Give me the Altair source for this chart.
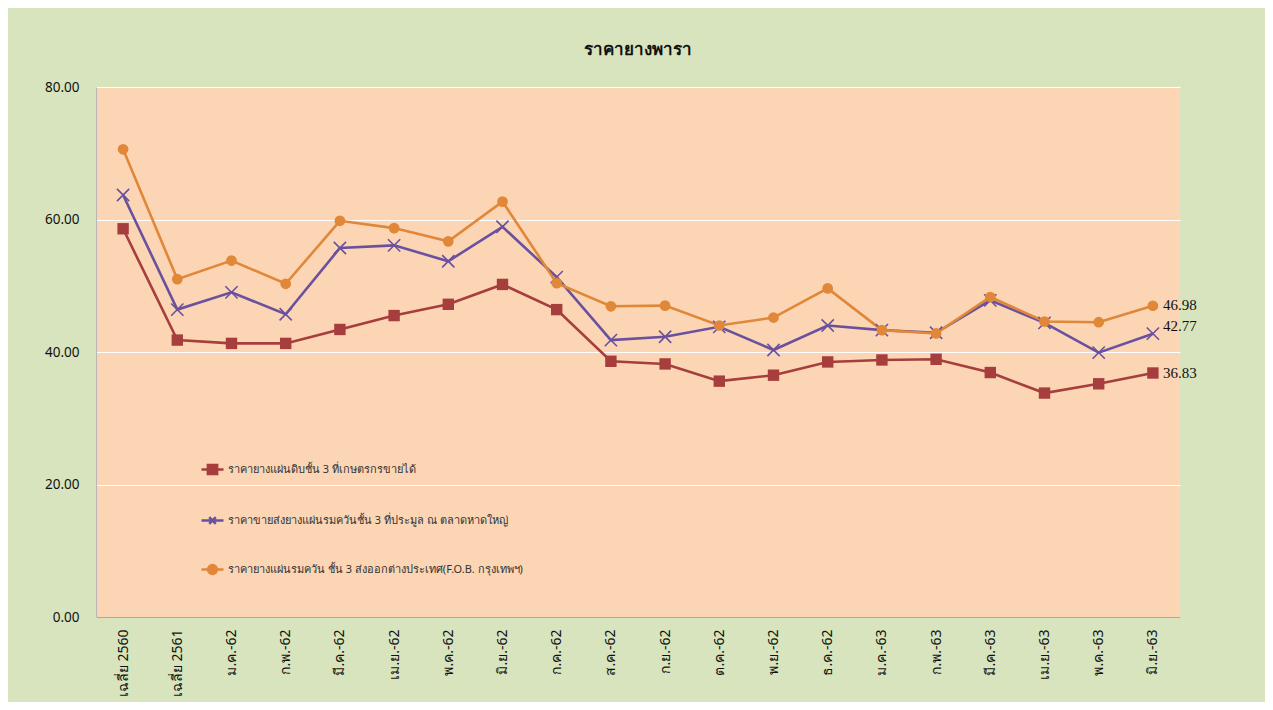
import altair as alt
import pandas as pd

categories = ["เฉลี่ย 2560", "เฉลี่ย 2561", "ม.ค.-62", "ก.พ.-62", "มี.ค.-62", "เม.ย.-62",
              "พ.ค.-62", "มิ.ย.-62", "ก.ค.-62", "ส.ค.-62", "ก.ย.-62", "ต.ค.-62",
              "พ.ย.-62", "ธ.ค.-62", "ม.ค.-63", "ก.พ.-63", "มี.ค.-63", "เม.ย.-63",
              "พ.ค.-63", "มิ.ย.-63"]

series_names = ["ราคายางแผ่นดิบชั้น 3 ที่เกษตรกรขายได้",
                "ราคาขายส่งยางแผ่นรมควันชั้น 3 ที่ประมูล ณ ตลาดหาดใหญ่",
                "ราคายางแผ่นรมควัน ชั้น 3 ส่งออกต่างประเทศ(F.O.B. กรุงเทพฯ)"]

raw_sheet = [58.6, 41.8, 41.3, 41.3, 43.4, 45.5, 47.2, 50.2, 46.4, 38.6,
             38.2, 35.6, 36.5, 38.5, 38.8, 38.9, 36.9, 33.8, 35.2, 36.83]
smoked_hatyai = [63.7, 46.4, 49.0, 45.7, 55.7, 56.1, 53.7, 58.9, 51.3, 41.8,
                 42.3, 43.8, 40.3, 44.0, 43.3, 42.9, 47.8, 44.4, 39.9, 42.77]
smoked_fob = [70.6, 51.0, 53.8, 50.3, 59.8, 58.7, 56.7, 62.7, 50.4, 46.9,
              47.0, 44.0, 45.2, 49.6, 43.3, 42.8, 48.3, 44.6, 44.5, 46.98]

colors = ["#A53E3D", "#6A519E", "#E08738"]

rows = []
for name, vals in zip(series_names, [raw_sheet, smoked_hatyai, smoked_fob]):
    for c, v in zip(categories, vals):
        rows.append({"cat": c, "series": name, "value": v})
df = pd.DataFrame(rows)

FONT = "Noto Sans"
x_enc = alt.X("cat:N", sort=categories, scale=alt.Scale(type="point", padding=0.5),
              axis=alt.Axis(title=None, labelAngle=270, labelFontSize=14, labelColor="#111111",
                            labelPadding=12, ticks=False, domainColor="#A8A8A8",
                            labelFont=FONT, grid=False))
y_enc = alt.Y("value:Q", scale=alt.Scale(domain=[0, 80], nice=False),
              axis=alt.Axis(title=None, values=[0, 20, 40, 60, 80], format=".2f",
                            labelFontSize=13.5, labelColor="#111111", labelPadding=17,
                            ticks=False, domainColor="#B8B8B8", gridColor="#FFFFFF",
                            gridWidth=1, labelFont=FONT))

base = alt.Chart(df)

x_path = "M-1,-1L1,1M-1,1L1,-1"
marker_props = [
    dict(shape="square", filled=True, size=130),
    dict(shape=x_path, filled=False, size=150, strokeWidth=1.6),
    dict(shape="circle", filled=True, size=115),
]

layers = []
for name, col in zip(series_names, colors):
    layers.append(base.transform_filter(alt.datum.series == name)
                  .mark_line(strokeWidth=2.6, color=col).encode(x=x_enc, y=y_enc))
for name, col, mp in zip(series_names, colors, marker_props):
    layers.append(base.transform_filter(alt.datum.series == name)
                  .mark_point(opacity=1, color=col, **mp).encode(x=x_enc, y=y_enc))

legend_shapes = [
    "M-1,0H1M-0.42,-0.42H0.42V0.42H-0.42Z",
    "M-1,0H1M-0.3,-0.3L0.3,0.3M-0.3,0.3L0.3,-0.3",
    "M-1,0H1M-0.4,0A0.4,0.4,0,1,0,0.4,0A0.4,0.4,0,1,0,-0.4,0Z",
]
leg = alt.Legend(title=None, orient="none", legendX=104, legendY=370, direction="vertical",
                 rowPadding=28, symbolSize=484, symbolStrokeWidth=2.5, labelFontSize=11,
                 labelColor="#333333", labelFont=FONT, labelOffset=3, padding=0,
                 symbolOpacity=1, labelLimit=600)
# legend-only layer: its points sit outside the plot area and are clipped away
legend_layer = base.mark_point(filled=True, clip=True).encode(
    x=x_enc, y=alt.value(-2000),
    shape=alt.Shape("series:N", scale=alt.Scale(domain=series_names, range=legend_shapes), legend=leg),
    fill=alt.Fill("series:N", scale=alt.Scale(domain=series_names, range=colors), legend=leg),
    stroke=alt.Stroke("series:N", scale=alt.Scale(domain=series_names, range=colors), legend=leg),
)
layers.append(legend_layer)

label_dy = [0, -8, -1]
for name, dy in zip(series_names, label_dy):
    layers.append(
        base.transform_filter((alt.datum.series == name) & (alt.datum.cat == categories[-1]))
        .mark_text(align="left", baseline="middle", dx=10, dy=dy, fontSize=15,
                   font="Liberation Sans Narrow", color="#111111")
        .encode(x=x_enc, y=y_enc, text=alt.Text("value:Q", format=".2f"))
    )

chart = alt.layer(*layers).properties(
    width=1084, height=530,
    title=alt.TitleParams("ราคายางพารา", fontSize=17, font=FONT, fontWeight="bold",
                          color="#111111", anchor="middle", offset=21),
    background="#D7E4BD",
    padding={"left": 88, "top": 79, "right": 85, "bottom": 85},
    autosize=alt.AutoSizeParams(type="none"),
).configure_view(fill="#FCD5B5", stroke=None)

chart.save("out.html", embed_options={"renderer": "svg", "actions": False})
